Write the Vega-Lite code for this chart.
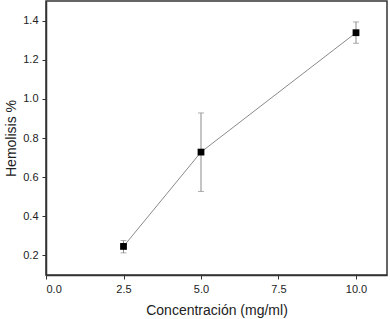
{
  "$schema": "https://vega.github.io/schema/vega-lite/v6.json",
  "width": 341,
  "height": 274,
  "autosize": {"type": "none"},
  "padding": {"left": 46, "top": 1, "right": 3, "bottom": 44},
  "background": "white",
  "config": {
    "view": {"stroke": "#333333", "strokeWidth": 1.5},
    "font": "Liberation Sans",
    "axis": {
      "labelFont": "Liberation Sans",
      "titleFont": "Liberation Sans",
      "labelFontSize": 11,
      "titleFontSize": 14,
      "titleFontWeight": "normal",
      "labelColor": "#222222",
      "titleColor": "#222222",
      "domainColor": "#333333",
      "domainWidth": 1.5,
      "tickColor": "#333333",
      "tickWidth": 1,
      "grid": false
    }
  },
  "data": {
    "values": [
      {"conc": 2.5, "hem": 0.246, "lo": 0.213, "hi": 0.276},
      {"conc": 5.0, "hem": 0.728, "lo": 0.527, "hi": 0.928},
      {"conc": 10.0, "hem": 1.338, "lo": 1.284, "hi": 1.393}
    ]
  },
  "encoding": {
    "x": {
      "field": "conc",
      "type": "quantitative",
      "scale": {"domain": [0, 11], "nice": false, "zero": false},
      "axis": {
        "title": "Concentración (mg/ml)",
        "values": [0, 2.5, 5, 7.5, 10],
        "format": ".1f",
        "tickSize": 4,
        "labelPadding": 4,
        "titlePadding": 9
      }
    }
  },
  "layer": [
    {
      "mark": {"type": "line", "color": "#8a8a8a", "strokeWidth": 1},
      "encoding": {
        "y": {
          "field": "hem",
          "type": "quantitative",
          "title": "Hemolisis %",
          "scale": {"domain": [0.1, 1.5], "nice": false, "zero": false},
          "axis": {
            "title": "Hemolisis %",
            "values": [0.2, 0.3, 0.4, 0.5, 0.6, 0.7, 0.8, 0.9, 1.0, 1.1, 1.2, 1.3, 1.4],
            "labelExpr": "round(datum.value*10) % 2 == 0 ? format(datum.value, '.1f') : ''",
            "tickSize": {"condition": {"test": "round(datum.value*10) % 2 == 0", "value": 4}, "value": 2.5},
            "labelPadding": 4,
            "titlePadding": 4
          }
        }
      }
    },
    {
      "mark": {"type": "errorbar", "color": "#8a8a8a", "thickness": 1, "ticks": {"size": 6, "color": "#8a8a8a", "thickness": 1}},
      "encoding": {
        "y": {"field": "lo", "type": "quantitative", "title": "Hemolisis %"},
        "y2": {"field": "hi"}
      }
    },
    {
      "mark": {"type": "square", "size": 46, "color": "black", "opacity": 1, "filled": true},
      "encoding": {
        "y": {"field": "hem", "type": "quantitative", "title": "Hemolisis %"}
      }
    }
  ]
}
